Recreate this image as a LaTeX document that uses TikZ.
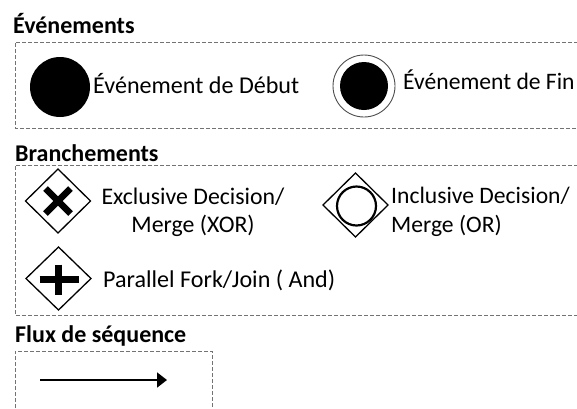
\documentclass[tikz,border=0pt]{standalone}
\usepackage{fontspec}
\setmainfont{Carlito}
\usetikzlibrary{arrows.meta}
\begin{document}
\begin{tikzpicture}[x=1pt,y=-1pt,
  grpbox/.style={draw=black!55, dashed, dash pattern=on 4pt off 2pt, line width=0.8pt},
  ttl/.style={anchor=base west, inner sep=0pt, font=\fontsize{24}{28}\selectfont\bfseries},
  lbl/.style={anchor=base west, inner sep=0pt, font=\fontsize{24.1}{28}\selectfont},
  lbls/.style={anchor=base west, inner sep=0pt, font=\fontsize{23.6}{28}\selectfont},
  lblc/.style={anchor=base, inner sep=0pt, font=\fontsize{23.8}{28}\selectfont},
  gateway/.style={draw=black, line width=1.3pt, line join=miter},
  gwsymbol/.style={line width=6.5pt, line cap=butt}
]
\useasboundingbox (0,0) rectangle (577,408);
\begin{scope}
\clip (0,0) rectangle (577,408);
% boxes
\draw[grpbox] (590,42) -- (15,42) -- (15,128) -- (590,128);
\draw[grpbox] (590,165) -- (15,165) -- (15,315) -- (590,315);
\draw[grpbox] (15,420) -- (15,351) -- (212,351) -- (212,420);
\end{scope}
% titles
\node[ttl] (t1) at (13,33) {Événements};
\node[ttl] (t2) at (15,161) {Branchements};
\node[ttl] (t3) at (15,342) {Flux de séquence};
% events
\fill (60,87) circle (30);
\node[lbl] (start) at (93,93) {Événement de Début};
\draw[black!70, line width=0.9pt] (364,86) circle (31);
\fill (364,86) circle (24);
\node[lbls] (end) at (403,89) {Événement de Fin};
% XOR
\draw[gateway] (58,169) -- (90.5,201) -- (58,233) -- (25.5,201) -- cycle;
\draw[gwsymbol] (45.5,188.5) -- (70.5,213.5);
\draw[gwsymbol] (45.5,213.5) -- (70.5,188.5);
\node[lblc] (xor1) at (193,204) {Exclusive Decision/};
\node[lblc] (xor2) at (193,232) {Merge (XOR)};
% OR
\draw[gateway] (355.5,173) -- (388,205) -- (355.5,237) -- (323,205) -- cycle;
\draw[line width=2.2pt] (356.5,206) circle (19.5);
\node[lbls] (or1) at (391,203) {Inclusive Decision/};
\node[lbls] (or2) at (391,232) {Merge (OR)};
% AND
\draw[gateway] (58.5,247) -- (91,278.5) -- (58.5,310) -- (26,278.5) -- cycle;
\draw[gwsymbol] (39.5,279.5) -- (78.5,279.5);
\draw[gwsymbol] (58.5,264.5) -- (58.5,294.5);
\node[lbl] (and) at (103,287) {Parallel Fork/Join ( And)};
% sequence flow
\coordinate (fa) at (40,380);
\coordinate (fb) at (167,380);
\draw[line width=1.8pt, -{Triangle[length=10pt,width=15pt]}] (fa) -- (fb);
\end{tikzpicture}
\end{document}
